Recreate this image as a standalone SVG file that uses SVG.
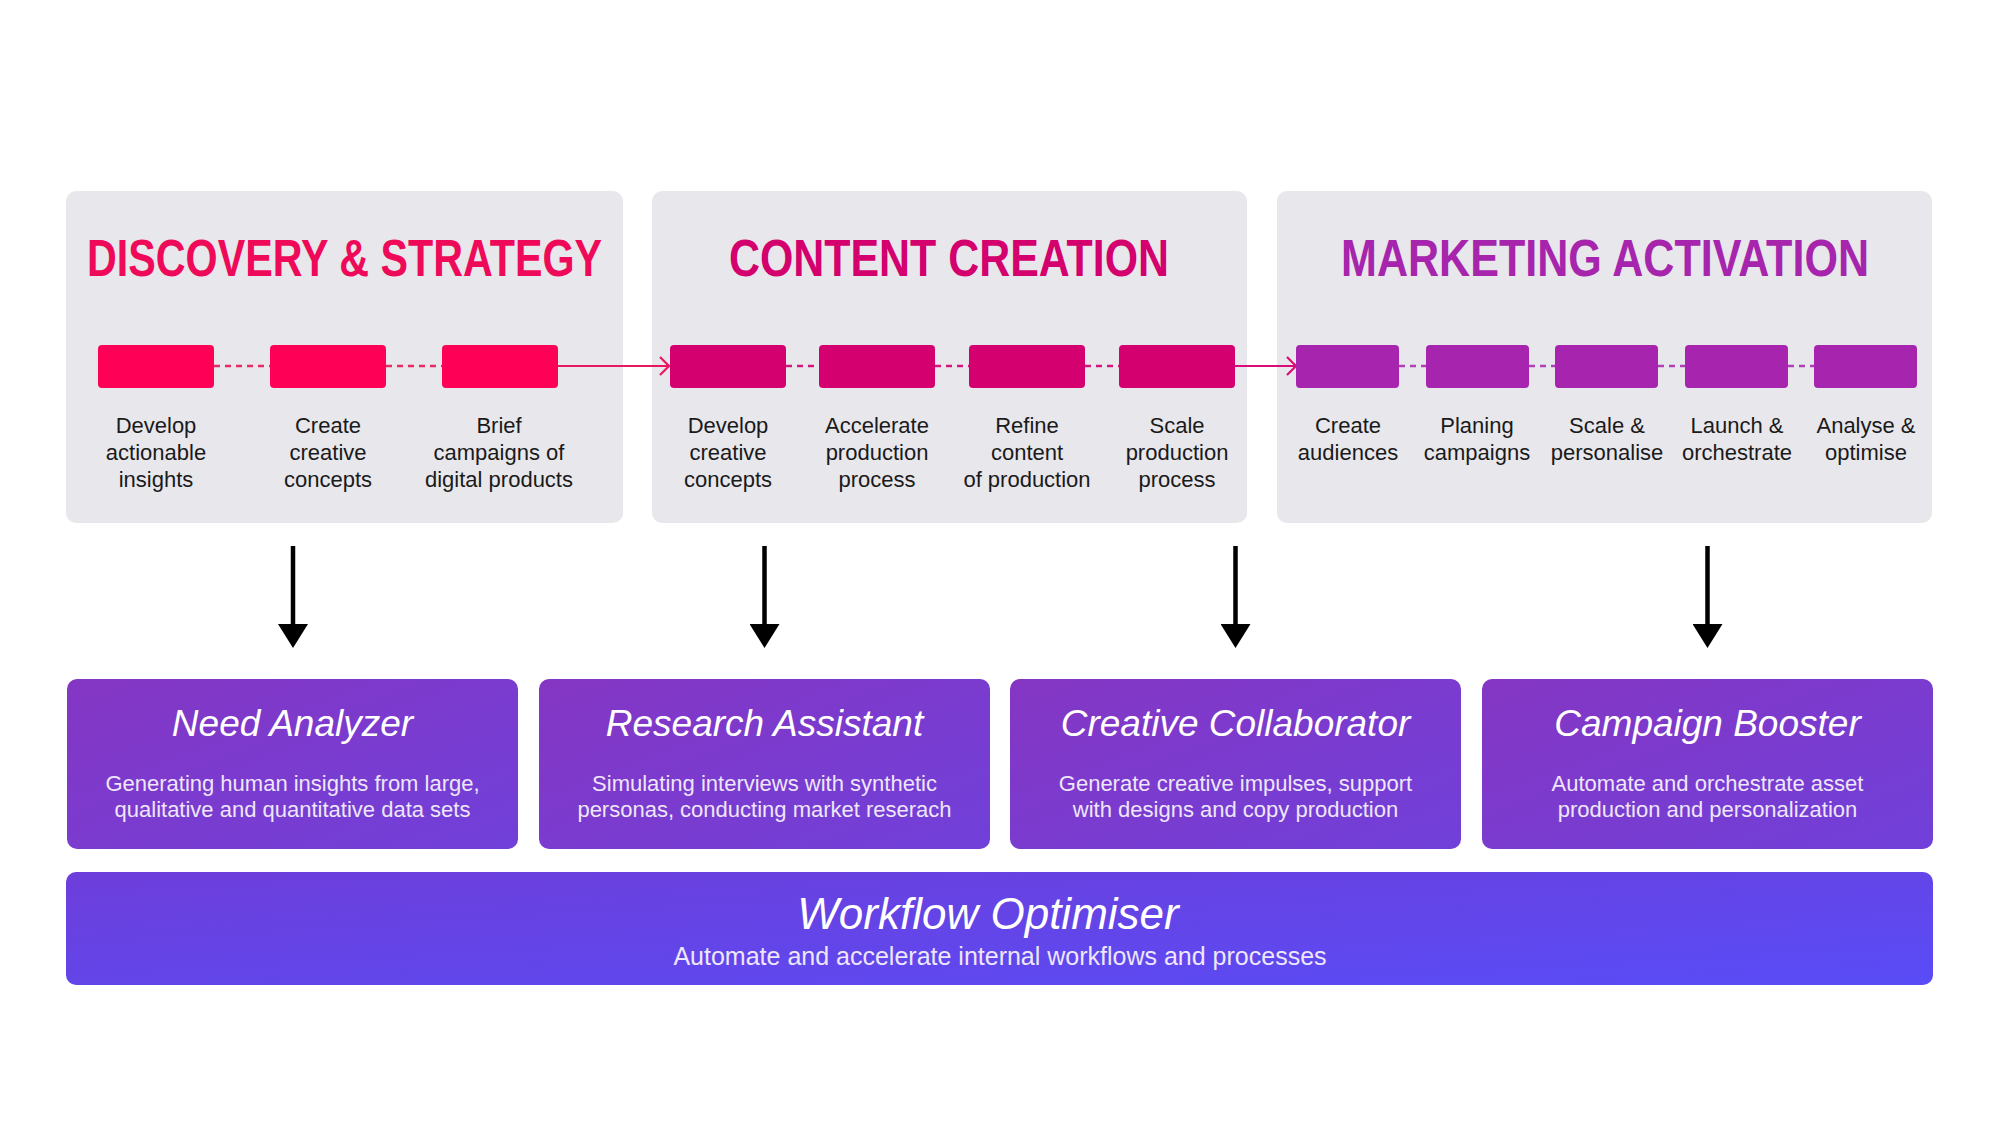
<svg xmlns="http://www.w3.org/2000/svg" width="2000" height="1125" viewBox="0 0 2000 1125">
  <defs>
    <linearGradient id="gSub" x1="0" y1="0" x2="1" y2="1">
      <stop offset="0" stop-color="#8536C3"/>
      <stop offset="1" stop-color="#7040DA"/>
    </linearGradient>
    <linearGradient id="gWf" x1="0" y1="0" x2="1" y2="1">
      <stop offset="0" stop-color="#6D3EDB"/>
      <stop offset="1" stop-color="#594CF6"/>
    </linearGradient>
    <marker id="chev1" markerUnits="userSpaceOnUse" markerWidth="14" markerHeight="22" refX="11" refY="11" orient="auto">
      <path d="M2,2 L11,11 L2,20" fill="none" stroke="#E8185F" stroke-width="2.2"/>
    </marker>
    <marker id="chev2" markerUnits="userSpaceOnUse" markerWidth="14" markerHeight="22" refX="11" refY="11" orient="auto">
      <path d="M2,2 L11,11 L2,20" fill="none" stroke="#DA0C78" stroke-width="2.2"/>
    </marker>
    <marker id="blk" markerUnits="userSpaceOnUse" markerWidth="30" markerHeight="30" refX="6" refY="15" orient="auto">
      <path d="M0,0 L24,15 L0,30 Z" fill="#000"/>
    </marker>
  </defs>
  <style>
    .panel { fill: #E8E7EC; }
    .ptitle { font-family: "Liberation Sans", Arial, sans-serif; font-weight: bold; font-size: 51px; text-anchor: middle; }
    .step { font-family: "Liberation Sans", Arial, sans-serif; font-size: 22px; fill: #1A1A1A; text-anchor: middle; }
    .s1 { fill: #FF0057; }
    .s2 { fill: #D5006F; }
    .s3 { fill: #A725AE; }
    .sub { fill: url(#gSub); }
    .stitle { font-family: "Liberation Sans", Arial, sans-serif; font-style: italic; font-size: 37px; fill: #FFFFFF; text-anchor: middle; }
    .sdesc { font-family: "Liberation Sans", Arial, sans-serif; font-size: 22px; fill: #EEE6FA; text-anchor: middle; }
    .dash { fill: none; stroke-width: 2.4; stroke-dasharray: 6 5; }
    .down { fill: none; stroke: #000; stroke-width: 4.5; }
  </style>
  <rect width="2000" height="1125" fill="#FFFFFF"/>

  <!-- Panels -->
  <g id="panel-discovery">
    <rect class="panel" x="66" y="191" width="557" height="332" rx="10"/>
    <text class="ptitle" x="344.5" y="276" fill="#EE0A58" textLength="515" lengthAdjust="spacingAndGlyphs">DISCOVERY &amp; STRATEGY</text>
  </g>
  <g id="panel-content">
    <rect class="panel" x="652" y="191" width="595" height="332" rx="10"/>
    <text class="ptitle" x="949" y="276" fill="#D3006E" textLength="440" lengthAdjust="spacingAndGlyphs">CONTENT CREATION</text>
  </g>
  <g id="panel-marketing">
    <rect class="panel" x="1277" y="191" width="655" height="332" rx="10"/>
    <text class="ptitle" x="1605" y="276" fill="#A625AC" textLength="528" lengthAdjust="spacingAndGlyphs">MARKETING ACTIVATION</text>
  </g>

  <!-- Connectors -->
  <g id="connectors">
    <line class="dash" x1="214" y1="366" x2="270" y2="366" stroke="#EA2A64"/>
    <line class="dash" x1="386" y1="366" x2="442" y2="366" stroke="#EA2A64"/>
    <line x1="558" y1="366" x2="669" y2="366" stroke="#E8185F" stroke-width="2.2" marker-end="url(#chev1)"/>
    <line class="dash" x1="786" y1="366" x2="819" y2="366" stroke="#D3187A"/>
    <line class="dash" x1="935" y1="366" x2="969" y2="366" stroke="#D3187A"/>
    <line class="dash" x1="1085" y1="366" x2="1119" y2="366" stroke="#D3187A"/>
    <line x1="1235" y1="366" x2="1296" y2="366" stroke="#DA0C78" stroke-width="2.2" marker-end="url(#chev2)"/>
    <line class="dash" x1="1399" y1="366" x2="1426" y2="366" stroke="#B040B6"/>
    <line class="dash" x1="1529" y1="366" x2="1555" y2="366" stroke="#B040B6"/>
    <line class="dash" x1="1658" y1="366" x2="1685" y2="366" stroke="#B040B6"/>
    <line class="dash" x1="1788" y1="366" x2="1814" y2="366" stroke="#B040B6"/>
    <line class="down" x1="293" y1="546" x2="293" y2="630" marker-end="url(#blk)"/>
    <line class="down" x1="764.5" y1="546" x2="764.5" y2="630" marker-end="url(#blk)"/>
    <line class="down" x1="1235.5" y1="546" x2="1235.5" y2="630" marker-end="url(#blk)"/>
    <line class="down" x1="1707.5" y1="546" x2="1707.5" y2="630" marker-end="url(#blk)"/>
  </g>

  <!-- Steps: Discovery -->
  <g id="step-develop-insights">
    <rect class="s1" x="98" y="345" width="116" height="43" rx="4"/>
    <text class="step" x="156" y="433">Develop</text>
    <text class="step" x="156" y="460">actionable</text>
    <text class="step" x="156" y="487">insights</text>
  </g>
  <g id="step-create-concepts">
    <rect class="s1" x="270" y="345" width="116" height="43" rx="4"/>
    <text class="step" x="328" y="433">Create</text>
    <text class="step" x="328" y="460">creative</text>
    <text class="step" x="328" y="487">concepts</text>
  </g>
  <g id="step-brief-campaigns">
    <rect class="s1" x="442" y="345" width="116" height="43" rx="4"/>
    <text class="step" x="499" y="433">Brief</text>
    <text class="step" x="499" y="460">campaigns of</text>
    <text class="step" x="499" y="487">digital products</text>
  </g>

  <!-- Steps: Content -->
  <g id="step-develop-concepts">
    <rect class="s2" x="670" y="345" width="116" height="43" rx="4"/>
    <text class="step" x="728" y="433">Develop</text>
    <text class="step" x="728" y="460">creative</text>
    <text class="step" x="728" y="487">concepts</text>
  </g>
  <g id="step-accelerate">
    <rect class="s2" x="819" y="345" width="116" height="43" rx="4"/>
    <text class="step" x="877" y="433">Accelerate</text>
    <text class="step" x="877" y="460">production</text>
    <text class="step" x="877" y="487">process</text>
  </g>
  <g id="step-refine">
    <rect class="s2" x="969" y="345" width="116" height="43" rx="4"/>
    <text class="step" x="1027" y="433">Refine</text>
    <text class="step" x="1027" y="460">content</text>
    <text class="step" x="1027" y="487">of production</text>
  </g>
  <g id="step-scale-production">
    <rect class="s2" x="1119" y="345" width="116" height="43" rx="4"/>
    <text class="step" x="1177" y="433">Scale</text>
    <text class="step" x="1177" y="460">production</text>
    <text class="step" x="1177" y="487">process</text>
  </g>

  <!-- Steps: Marketing -->
  <g id="step-audiences">
    <rect class="s3" x="1296" y="345" width="103" height="43" rx="4"/>
    <text class="step" x="1348" y="433">Create</text>
    <text class="step" x="1348" y="460">audiences</text>
  </g>
  <g id="step-planing">
    <rect class="s3" x="1426" y="345" width="103" height="43" rx="4"/>
    <text class="step" x="1477" y="433">Planing</text>
    <text class="step" x="1477" y="460">campaigns</text>
  </g>
  <g id="step-personalise">
    <rect class="s3" x="1555" y="345" width="103" height="43" rx="4"/>
    <text class="step" x="1607" y="433">Scale &amp;</text>
    <text class="step" x="1607" y="460">personalise</text>
  </g>
  <g id="step-launch">
    <rect class="s3" x="1685" y="345" width="103" height="43" rx="4"/>
    <text class="step" x="1737" y="433">Launch &amp;</text>
    <text class="step" x="1737" y="460">orchestrate</text>
  </g>
  <g id="step-analyse">
    <rect class="s3" x="1814" y="345" width="103" height="43" rx="4"/>
    <text class="step" x="1866" y="433">Analyse &amp;</text>
    <text class="step" x="1866" y="460">optimise</text>
  </g>

  <!-- Assistants -->
  <g id="need-analyzer">
    <rect class="sub" x="67" y="679" width="451" height="170" rx="10"/>
    <text class="stitle" x="292.5" y="736">Need Analyzer</text>
    <text class="sdesc" x="292.5" y="791">Generating human insights from large,</text>
    <text class="sdesc" x="292.5" y="817">qualitative and quantitative data sets</text>
  </g>
  <g id="research-assistant">
    <rect class="sub" x="539" y="679" width="451" height="170" rx="10"/>
    <text class="stitle" x="764.5" y="736">Research Assistant</text>
    <text class="sdesc" x="764.5" y="791">Simulating interviews with synthetic</text>
    <text class="sdesc" x="764.5" y="817">personas, conducting market reserach</text>
  </g>
  <g id="creative-collaborator">
    <rect class="sub" x="1010" y="679" width="451" height="170" rx="10"/>
    <text class="stitle" x="1235.5" y="736">Creative Collaborator</text>
    <text class="sdesc" x="1235.5" y="791">Generate creative impulses, support</text>
    <text class="sdesc" x="1235.5" y="817">with designs and copy production</text>
  </g>
  <g id="campaign-booster">
    <rect class="sub" x="1482" y="679" width="451" height="170" rx="10"/>
    <text class="stitle" x="1707.5" y="736">Campaign Booster</text>
    <text class="sdesc" x="1707.5" y="791">Automate and orchestrate asset</text>
    <text class="sdesc" x="1707.5" y="817">production and personalization</text>
  </g>

  <g id="workflow-optimiser">
    <rect x="66" y="872" width="1867" height="113" rx="10" fill="url(#gWf)"/>
    <text class="stitle" x="988" y="929" style="font-size:44px">Workflow Optimiser</text>
    <text class="sdesc" x="1000" y="965" style="font-size:25px">Automate and accelerate internal workflows and processes</text>
  </g>
</svg>
